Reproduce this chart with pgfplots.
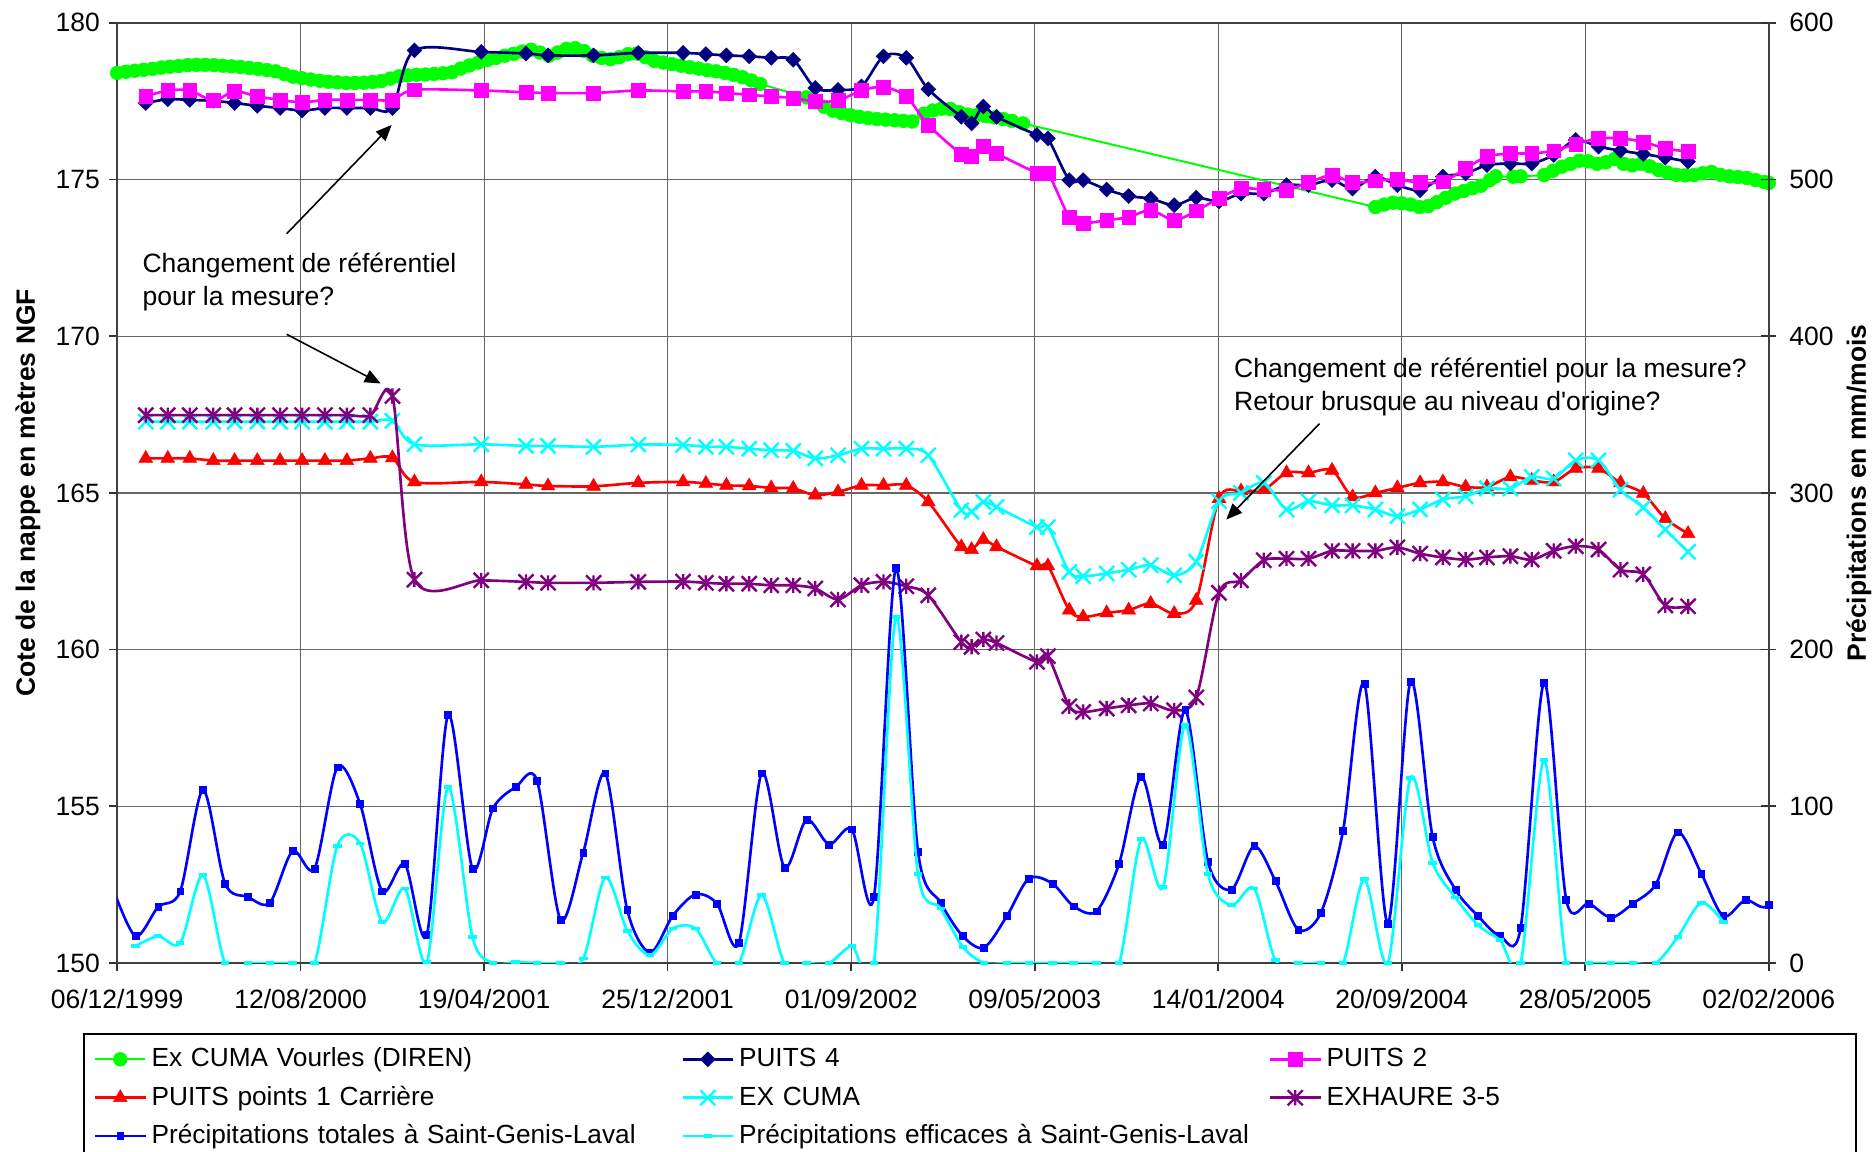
\documentclass[border=0pt]{standalone}
\usepackage{fontspec}
\setmainfont{Liberation Sans}
\usepackage{pgfplots}
\usepackage{pgfplotstable}
\pgfplotsset{compat=1.18}
\usetikzlibrary{arrows.meta}

\definecolor{cDiren}{RGB}{0,255,0}
\definecolor{cPuitsA}{RGB}{0,0,128}
\definecolor{cPuitsB}{RGB}{255,0,255}
\definecolor{cCarr}{RGB}{255,0,0}
\definecolor{cExcuma}{RGB}{0,255,255}
\definecolor{cExh}{RGB}{128,0,128}
\definecolor{cPtot}{RGB}{0,0,255}
\definecolor{cPeff}{RGB}{0,255,255}

% square diamond
\pgfdeclareplotmark{rdiamond}{%
  \pgfpathmoveto{\pgfqpoint{0pt}{\pgfplotmarksize}}%
  \pgfpathlineto{\pgfqpoint{\pgfplotmarksize}{0pt}}%
  \pgfpathlineto{\pgfqpoint{0pt}{-\pgfplotmarksize}}%
  \pgfpathlineto{\pgfqpoint{-\pgfplotmarksize}{0pt}}%
  \pgfpathclose\pgfusepathqfillstroke}
% cross with a vertical bar
\pgfdeclareplotmark{xstar}{%
  \pgfpathmoveto{\pgfqpoint{-\pgfplotmarksize}{-\pgfplotmarksize}}%
  \pgfpathlineto{\pgfqpoint{\pgfplotmarksize}{\pgfplotmarksize}}%
  \pgfpathmoveto{\pgfqpoint{-\pgfplotmarksize}{\pgfplotmarksize}}%
  \pgfpathlineto{\pgfqpoint{\pgfplotmarksize}{-\pgfplotmarksize}}%
  \pgfpathmoveto{\pgfqpoint{0pt}{-\pgfplotmarksize}}%
  \pgfpathlineto{\pgfqpoint{0pt}{\pgfplotmarksize}}%
  \pgfusepathqstroke}
% short horizontal bar
\pgfdeclareplotmark{hbar}{%
  \pgfpathrectangle{\pgfqpoint{-\pgfplotmarksize}{-0.45\pgfplotmarksize}}{\pgfqpoint{2\pgfplotmarksize}{0.9\pgfplotmarksize}}%
  \pgfusepathqfill}

\pgfplotsset{
  diren/.style={draw=cDiren, line width=0.75pt, mark=*, mark size=2.6pt,
    mark options={draw=cDiren, fill=cDiren, line width=0.2pt}},
  puitsA/.style={draw=cPuitsA, line width=1pt, smooth, mark=rdiamond, mark size=2.8pt,
    mark options={draw=cPuitsA, fill=cPuitsA, line width=0.2pt}},
  puitsB/.style={draw=cPuitsB, line width=1pt, smooth, mark=square*, mark size=2.6pt,
    mark options={draw=cPuitsB, fill=cPuitsB, line width=0.2pt}},
  carr/.style={draw=cCarr, line width=1pt, smooth, mark=triangle*, mark size=3pt,
    mark options={draw=cCarr, fill=cCarr, line width=0.2pt}},
  excuma/.style={draw=cExcuma, line width=1pt, smooth, mark=x, mark size=4pt,
    mark options={draw=cExcuma, line width=0.9pt}},
  exh/.style={draw=cExh, line width=1pt, smooth, mark=xstar, mark size=2.85pt,
    mark options={draw=cExh, line width=0.9pt}},
  ptot/.style={draw=cPtot, line width=1pt, smooth, mark=square*, mark size=1.3pt,
    mark options={draw=cPtot, fill=cPtot, line width=0.2pt}},
  peff/.style={draw=cPeff, line width=1pt, smooth, mark=hbar, mark size=1.6pt,
    mark options={fill=cPeff}},
}

% days counted from 06/12/1999
\pgfplotstableread{
d v
0 178.40
12 178.44
24 178.47
36 178.50
48 178.53
60 178.57
72 178.60
84 178.62
96 178.65
108 178.66
120 178.66
132 178.65
144 178.63
156 178.61
168 178.59
180 178.56
192 178.53
204 178.49
216 178.45
228 178.36
240 178.28
252 178.23
264 178.19
276 178.15
288 178.12
300 178.10
312 178.08
324 178.08
336 178.09
348 178.11
360 178.14
372 178.22
384 178.29
396 178.32
408 178.34
420 178.35
432 178.37
444 178.39
456 178.42
468 178.54
480 178.64
492 178.73
504 178.81
516 178.88
528 178.95
540 179.01
552 179.08
564 179.14
576 179.05
588 178.95
600 179.05
612 179.17
624 179.19
636 179.10
648 178.95
660 178.88
672 178.84
684 178.90
696 179.00
708 179.02
720 178.90
732 178.78
744 178.73
756 178.68
768 178.63
780 178.58
792 178.54
804 178.49
816 178.45
828 178.40
840 178.34
852 178.26
864 178.16
876 178.05
939 177.62
951 177.48
963 177.32
975 177.20
987 177.12
999 177.05
1011 177.00
1023 176.96
1035 176.93
1047 176.91
1059 176.89
1071 176.87
1083 176.85
1099 177.10
1111 177.20
1123 177.26
1135 177.25
1147 177.15
1159 177.07
1171 177.05
1183 177.02
1195 176.98
1207 176.93
1219 176.87
1234 176.79
1714 174.12
1726 174.20
1738 174.26
1750 174.24
1762 174.20
1774 174.12
1786 174.15
1798 174.28
1810 174.42
1822 174.55
1834 174.63
1846 174.72
1858 174.80
1870 174.98
1878 175.10
1902 175.09
1912 175.10
1944 175.14
1956 175.28
1968 175.41
1980 175.50
1992 175.60
2004 175.58
2016 175.50
2028 175.55
2040 175.65
2052 175.50
2064 175.45
2076 175.50
2088 175.42
2100 175.30
2112 175.22
2124 175.15
2136 175.13
2148 175.14
2160 175.20
2172 175.24
2184 175.15
2196 175.10
2208 175.08
2220 175.05
2232 174.98
2244 174.92
2250 174.89
}\direntab

\pgfplotstableread{
d p4 p2 carr excuma exh
39 177.44 177.65 166.10 167.27 167.48
69 177.56 177.84 166.10 167.27 167.48
99 177.54 177.84 166.10 167.27 167.48
131 177.51 177.52 166.03 167.27 167.48
160 177.44 177.81 166.03 167.27 167.48
191 177.35 177.65 166.03 167.27 167.48
222 177.28 177.54 166.03 167.27 167.48
252 177.20 177.46 166.03 167.27 167.48
283 177.28 177.54 166.03 167.27 167.48
313 177.28 177.54 166.03 167.27 167.48
345 177.28 177.54 166.10 167.27 167.48
375 177.28 177.54 166.12 167.30 168.09
405 179.12 177.86 165.35 166.55 162.23
496 179.07 177.84 165.35 166.55 162.21
557 179.02 177.78 165.27 166.50 162.16
587 178.96 177.76 165.22 166.50 162.13
649 178.96 177.76 165.21 166.47 162.13
710 179.04 177.84 165.32 166.54 162.16
771 179.04 177.81 165.35 166.53 162.17
802 179.00 177.81 165.30 166.47 162.13
830 178.96 177.76 165.24 166.47 162.10
861 178.93 177.70 165.22 166.41 162.10
891 178.88 177.65 165.16 166.36 162.05
921 178.82 177.60 165.14 166.34 162.05
951 177.92 177.49 164.93 166.10 161.95
982 177.86 177.52 165.03 166.20 161.60
1014 177.97 177.84 165.24 166.41 162.05
1044 178.93 177.95 165.24 166.41 162.16
1075 178.88 177.65 165.24 166.41 162.02
1105 177.88 176.74 164.71 166.20 161.73
1150 177.00 175.81 163.28 164.45 160.24
1164 176.79 175.73 163.19 164.40 160.09
1180 177.33 176.05 163.51 164.71 160.32
1198 177.00 175.83 163.28 164.55 160.21
1253 176.42 175.21 162.67 163.91 159.61
1268 176.31 175.21 162.67 163.91 159.79
1297 174.98 173.80 161.26 162.48 158.19
1316 174.98 173.61 161.04 162.34 158.01
1348 174.68 173.70 161.17 162.43 158.12
1378 174.47 173.80 161.26 162.55 158.22
1408 174.39 174.02 161.47 162.69 158.28
1440 174.18 173.70 161.15 162.37 158.06
1470 174.42 174.00 161.57 162.80 158.47
1501 174.30 174.40 164.82 164.74 161.81
1531 174.55 174.71 165.06 165.00 162.21
1562 174.55 174.68 165.10 165.32 162.85
1593 174.82 174.66 165.64 164.47 162.90
1623 174.82 174.90 165.64 164.73 162.90
1655 174.98 175.14 165.72 164.60 163.15
1683 174.71 174.90 164.87 164.60 163.15
1714 175.09 174.96 165.00 164.47 163.15
1744 174.82 175.00 165.16 164.26 163.26
1775 174.66 174.90 165.32 164.47 163.06
1806 175.09 174.93 165.35 164.79 162.94
1837 175.19 175.35 165.19 164.89 162.87
1866 175.46 175.73 165.19 165.14 162.94
1898 175.51 175.83 165.51 165.14 162.98
1927 175.51 175.83 165.40 165.51 162.87
1957 175.78 175.92 165.35 165.46 163.15
1987 176.26 176.13 165.78 166.04 163.30
2018 176.05 176.31 165.78 166.04 163.19
2048 175.92 176.31 165.32 165.10 162.55
2079 175.81 176.20 164.98 164.53 162.40
2109 175.70 175.99 164.18 163.83 161.41
2140 175.57 175.89 163.70 163.12 161.38
}\wellstab

\pgfplotstableread{
d v
-6 48
25 17.1
56 35.8
86 45.8
117 110.4
147 50.7
178 42.2
208 38.4
239 71.4
269 60.3
300 124.9
331 101.5
361 45.8
392 63.1
422 18.1
451 158.4
484 60.3
512 98.7
543 112.2
572 116.4
604 27.7
635 70.6
665 121.1
695 33.7
726 6.7
757 30.2
788 43.8
817 38.0
847 12.8
878 121.1
909 61.0
939 91.3
970 75.7
1001 85.3
1031 42.2
1061 252.0
1091 71.0
1122 38.4
1152 17.1
1181 9.8
1212 29.9
1242 53.9
1274 50.7
1303 36.2
1334 33.0
1365 63.5
1395 119.0
1425 75.7
1455 161.5
1486 64.6
1518 46.9
1549 74.6
1578 52.2
1609 21.3
1640 32.2
1670 84.4
1699 178.3
1731 25.2
1762 179.7
1792 80.6
1823 46.9
1854 29.9
1884 17.1
1912 22.6
1944 179.1
1974 40.5
2005 38.0
2035 29.0
2065 38.0
2096 50.1
2126 83.4
2158 57.1
2188 29.9
2218 40.1
2250 37.3
2280 80.0
}\tottab

\pgfplotstableread{
d v
25 10.7
56 17.1
86 12.8
117 56.1
147 0
178 0
208 0
239 0
269 0
300 74.8
331 76.3
361 26.2
392 47.5
422 0.6
451 112.2
484 16.6
512 0
543 0.6
572 0
604 0
635 2.8
665 54.6
695 20.5
726 4.9
757 22.0
788 22.0
817 0
847 0
878 43.3
909 0
939 0
970 0
1001 10.7
1031 0
1061 221.0
1091 56.7
1122 34.8
1152 10.2
1181 0
1212 0
1242 0
1274 0
1303 0
1334 0
1365 0
1395 78.9
1425 48.6
1455 152.0
1486 56.6
1518 36.9
1549 47.5
1578 1.7
1609 0
1640 0
1670 0
1699 53.5
1731 0
1762 118.3
1792 64.0
1823 41.8
1854 24.1
1884 14.5
1912 0
1944 129.6
1974 0
2005 0
2035 0
2065 0
2096 0
2126 16.6
2158 38.4
2188 26.2
}\efftab

\begin{document}
\begin{tikzpicture}
\path[use as bounding box] (-44.2pt,-71.3pt) rectangle (663.0pt,363.4pt);

% water levels (left axis)
\begin{axis}[
  scale only axis, width=623.3pt, height=354.8pt,
  xmin=0, xmax=2250, ymin=150, ymax=180,
  xtick={0,250,...,2250},
  xticklabels={06/12/1999,12/08/2000,19/04/2001,25/12/2001,01/09/2002,09/05/2003,14/01/2004,20/09/2004,28/05/2005,02/02/2006},
  ytick={150,155,...,180},
  xtick pos=left, ytick pos=left,
  tick align=outside, major tick length=3pt,
  tick style={black!80, line width=0.6pt},
  grid=major, grid style={black!60, line width=0.5pt},
  axis line style={black!75, line width=0.9pt},
  /pgf/number format/assume math mode=true,
  tick label style={font=\fontsize{10}{12}\selectfont},
  xticklabel style={yshift=-3.4pt},
  ylabel={Cote de la nappe en mètres NGF},
  ylabel style={at={(axis description cs:-0.0540,0.5)}, anchor=center,
    font=\bfseries\fontsize{10}{12}\selectfont},
  clip mode=individual,
]
\addplot[diren] table[x=d, y=v] {\direntab};
\addplot[puitsA] table[x=d, y=p4] {\wellstab};
\addplot[puitsB] table[x=d, y=p2] {\wellstab};
\addplot[carr] table[x=d, y=carr] {\wellstab};
\addplot[excuma] table[x=d, y=excuma] {\wellstab};
\addplot[exh] table[x=d, y=exh] {\wellstab};

\node[anchor=west, inner sep=0pt, align=left, font=\fontsize{10}{12.3}\selectfont]
  at (axis cs:34,171.72) {Changement de référentiel\\pour la mesure?};
\node[anchor=west, inner sep=0pt, align=left, font=\fontsize{10}{12.5}\selectfont]
  at (axis cs:1521,168.39) {Changement de référentiel pour la mesure?\\Retour brusque au niveau d\textquotesingle origine?};
\draw[-{Triangle[length=6pt,width=5pt]}, line width=0.6pt] (axis cs:231,173.27) -- (axis cs:374,176.74);
\draw[-{Triangle[length=6pt,width=5pt]}, line width=0.6pt] (axis cs:231,170.06) -- (axis cs:359,168.49);
\draw[-{Triangle[length=6pt,width=5pt]}, line width=0.6pt] (axis cs:1638,167.21) -- (axis cs:1511,164.15);
\end{axis}

% rainfall (right axis)
\begin{axis}[
  scale only axis, width=623.3pt, height=354.8pt,
  xmin=0, xmax=2250, ymin=0, ymax=600,
  axis x line=none, axis y line*=right,
  ytick={0,100,...,600},
  tick align=center, major tick length=5.8pt,
  tick style={black!80, line width=0.6pt},
  axis line style={black!75, line width=0.9pt},
  /pgf/number format/assume math mode=true,
  tick label style={font=\fontsize{10}{12}\selectfont},
  yticklabel style={xshift=1.3pt},
  ylabel={Précipitations en mm/mois},
  ylabel style={at={(axis description cs:1.0545,0.5)}, anchor=center, rotate=0,
    font=\bfseries\fontsize{10}{12}\selectfont},
  clip mode=individual,
  legend columns=3, legend cell align=left,
  legend image code/.code={\draw[mark repeat=2,mark phase=2,#1] plot coordinates {(0pt,0pt) (9.5pt,0pt) (19pt,0pt)};},
  legend style={
    at={(axis description cs:0,0)}, anchor=north west,
    xshift=-12.9pt, yshift=-26.6pt,
    draw=black, line width=0.6pt, fill=white,
    inner xsep=3.8pt, inner ysep=4.2pt,
    font=\fontsize{9.9}{12}\selectfont,
    row sep=4pt,
    /tikz/every odd column/.append style={column sep=1.8pt},
    /tikz/every even column/.append style={column sep=3.9pt},
    nodes={text width=196pt, inner xsep=0pt, inner ysep=0pt,
      text height=8pt, text depth=2.5pt, align=left},
  },
]
\addlegendimage{diren}\addlegendentry{Ex CUMA Vourles (DIREN)}
\addlegendimage{puitsA}\addlegendentry{PUITS 4}
\addlegendimage{puitsB}\addlegendentry{PUITS 2}
\addlegendimage{carr}\addlegendentry{PUITS points 1 Carrière}
\addlegendimage{excuma}\addlegendentry{EX CUMA}
\addlegendimage{exh}\addlegendentry{EXHAURE 3-5}
\addlegendimage{ptot}\addlegendentry{Précipitations totales à Saint-Genis-Laval}
\addlegendimage{peff}\addlegendentry{Précipitations efficaces à Saint-Genis-Laval}

\addplot[ptot, no markers, forget plot] table[x=d, y=v] {\tottab};
\addplot[ptot, only marks, restrict x to domain=0:2250, forget plot] table[x=d, y=v] {\tottab};
\addplot[peff, forget plot] table[x=d, y=v] {\efftab};
\end{axis}
\end{tikzpicture}
\end{document}
